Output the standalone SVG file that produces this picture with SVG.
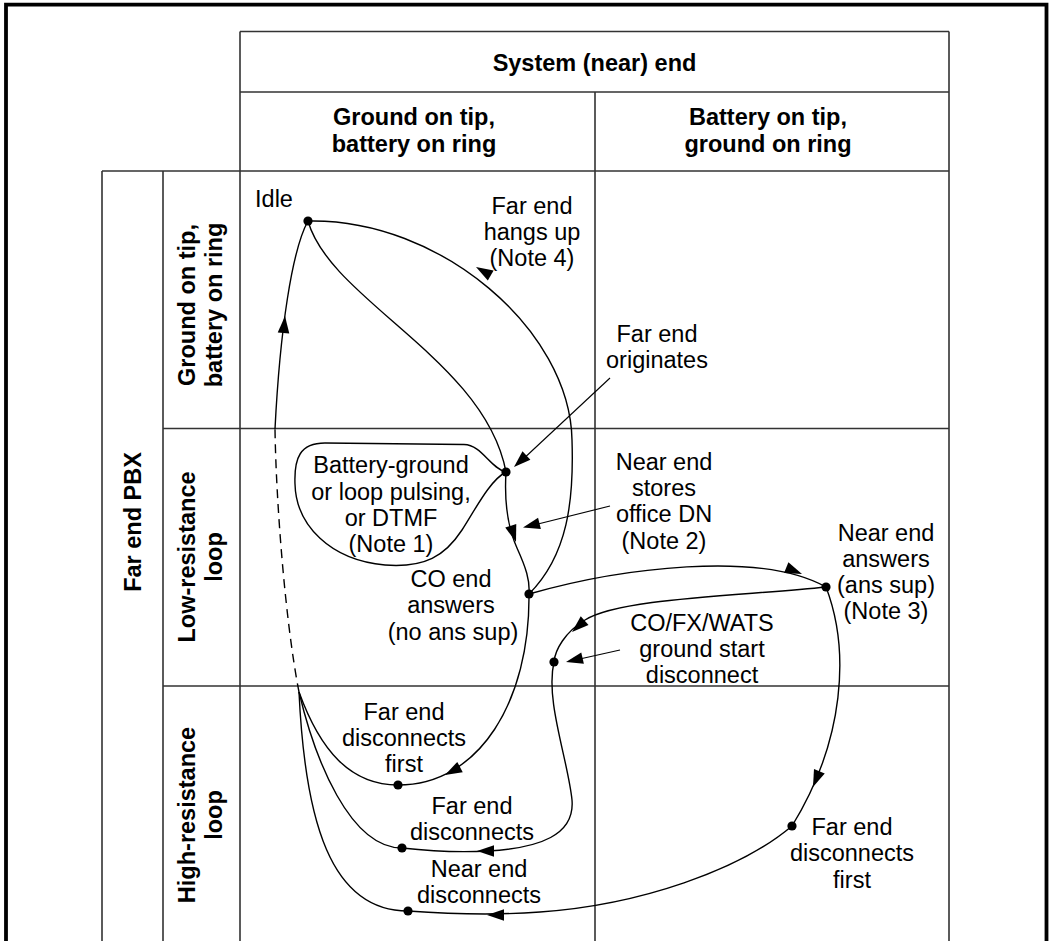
<svg xmlns="http://www.w3.org/2000/svg" xmlns:xlink="http://www.w3.org/1999/xlink" width="1051" height="941" viewBox="0 0 1051 941">
<style>
  .frame { fill: none; stroke: #000; stroke-width: 3.8; }
  .grid { fill: none; stroke: #333; stroke-width: 1.6; }
  .hdr { font-family: "Liberation Sans", Arial, sans-serif; font-size: 23.5px; font-weight: bold; fill: #000; text-anchor: middle; }
  .lbl { font-family: "Liberation Sans", Arial, sans-serif; font-size: 23.5px; fill: #000; text-anchor: middle; }
  .edge { fill: none; stroke: #000; stroke-width: 1.4; }
  .ptr { fill: none; stroke: #000; stroke-width: 1.1; }
  .dash { fill: none; stroke: #000; stroke-width: 1.4; stroke-dasharray: 9 6; }
  .dot { fill: #000; }
</style>
<defs>
  <path id="ah" d="M0,0 L-17,-5.8 L-17,5.8 Z" fill="#000"/>
</defs>
<rect width="1051" height="941" fill="#fff"/>
<path class="frame" d="M6,941 V4.7 H1046.5 V941"/>

<g id="table">
  <path class="grid" d="M240,31.5 H949 M240,92 H949 M102,171 H949 M163,428.5 H949 M163,686 H949"/>
  <path class="grid" d="M240,31.5 V941 M595,92 V941 M949,31.5 V941 M102,171 V941 M163,171 V941"/>
  <text class="hdr" x="594.5" y="71">System (near) end</text>
  <text class="hdr" x="414" y="125">Ground on tip,</text>
  <text class="hdr" x="414" y="152">battery on ring</text>
  <text class="hdr" x="768" y="125">Battery on tip,</text>
  <text class="hdr" x="768" y="152">ground on ring</text>
  <text class="hdr" transform="translate(141,522) rotate(-90)">Far end PBX</text>
  <text class="hdr" transform="translate(195,305) rotate(-90)">Ground on tip,</text>
  <text class="hdr" transform="translate(222,305) rotate(-90)">battery on ring</text>
  <text class="hdr" transform="translate(195,557) rotate(-90)">Low-resistance</text>
  <text class="hdr" transform="translate(222,557) rotate(-90)">loop</text>
  <text class="hdr" transform="translate(195,815) rotate(-90)">High-resistance</text>
  <text class="hdr" transform="translate(222,815) rotate(-90)">loop</text>
</g>

<g id="connectors">
  <path class="dash" d="M299,692 C 285,620 276,500 275,429"/>
  <path class="edge" d="M275,429 C 280,330 292,250 308,221"/>
  <path class="edge" d="M529,594 C 568,555 574,500 572,440 C 570,330 440,218 308,221"/>
  <path class="edge" d="M308,221 C 330,300 485,360 506,472"/>
  <path class="edge" d="M506,472 C 490,468 482,445 464,444.5 L 325,443 C 300,443 294,458 295,484 C 296,525 330,560 385,565 C 425,568 445,556 462,530 C 475,510 490,480 506,472"/>
  <path class="edge" d="M506,472 C 504,505 508,528 517,548 C 526,568 530,580 529,594"/>
  <path class="edge" d="M529,594 C 530,700 480,785 398,785"/>
  <path class="edge" d="M529,594 C 620,568 760,550 826,587"/>
  <path class="edge" d="M826,587 C 740,596 620,598 585,620 C 565,632 555,650 554,662"/>
  <path class="edge" d="M554,662 C 545,700 568,760 572,800 C 575,835 540,848 488,851 C 450,853 420,850 402,848"/>
  <path class="edge" d="M826,587 C 850,650 845,740 792,826"/>
  <path class="edge" d="M792,826 C 740,870 640,905 540,912 C 500,915 450,914 408,911"/>
  <path class="edge" d="M299,692 C 320,750 350,785 398,785"/>
  <path class="edge" d="M299,692 C 315,760 350,848 402,848"/>
  <path class="edge" d="M299,692 C 305,820 330,911 408,911"/>
  <path class="ptr" d="M610,378 L 520,462"/>
  <path class="ptr" d="M610,506 L 530,526"/>
  <path class="ptr" d="M620,650 L 573,660.5"/>
  <use xlink:href="#ah" transform="translate(285,316) rotate(-85)"/>
  <use xlink:href="#ah" transform="translate(476,267) rotate(210)"/>
  <use xlink:href="#ah" transform="translate(514,467) rotate(137)"/>
  <use xlink:href="#ah" transform="translate(516,542) rotate(72)"/>
  <use xlink:href="#ah" transform="translate(523,527.5) rotate(166)"/>
  <use xlink:href="#ah" transform="translate(802,574) rotate(22)"/>
  <use xlink:href="#ah" transform="translate(572,632) rotate(138)"/>
  <use xlink:href="#ah" transform="translate(566,662) rotate(167)"/>
  <use xlink:href="#ah" transform="translate(445,775) rotate(152)"/>
  <use xlink:href="#ah" transform="translate(477,851) rotate(180)"/>
  <use xlink:href="#ah" transform="translate(813,787) rotate(112)"/>
  <use xlink:href="#ah" transform="translate(487,915) rotate(180)"/>
  <text class="lbl" x="532" y="214">Far end</text>
  <text class="lbl" x="532" y="240">hangs up</text>
  <text class="lbl" x="532" y="266">(Note 4)</text>
  <text class="lbl" x="657" y="341.5">Far end</text>
  <text class="lbl" x="657" y="367.5">originates</text>
  <text class="lbl" x="391" y="473">Battery-ground</text>
  <text class="lbl" x="391" y="499.5">or loop pulsing,</text>
  <text class="lbl" x="391" y="526">or DTMF</text>
  <text class="lbl" x="391" y="552">(Note 1)</text>
  <text class="lbl" x="664" y="469.5">Near end</text>
  <text class="lbl" x="664" y="496">stores</text>
  <text class="lbl" x="664" y="522">office DN</text>
  <text class="lbl" x="664" y="548.5">(Note 2)</text>
  <text class="lbl" x="702" y="631">CO/FX/WATS</text>
  <text class="lbl" x="702" y="657">ground start</text>
  <text class="lbl" x="702" y="683">disconnect</text>
</g>

<g id="node-idle">
  <circle class="dot" cx="308" cy="221" r="4.6"/>
  <text class="lbl" x="274" y="207">Idle</text>
</g>
<g id="node-dialing">
  <circle class="dot" cx="506" cy="472" r="4.6"/>
</g>
<g id="node-co-answers">
  <circle class="dot" cx="529" cy="594" r="4.6"/>
  <text class="lbl" x="451" y="587">CO end</text>
  <text class="lbl" x="451" y="613">answers</text>
  <text class="lbl" x="453" y="640">(no ans sup)</text>
</g>
<g id="node-near-answers">
  <circle class="dot" cx="826" cy="587" r="4.6"/>
  <text class="lbl" x="886" y="540.5">Near end</text>
  <text class="lbl" x="886" y="566.5">answers</text>
  <text class="lbl" x="886" y="593">(ans sup)</text>
  <text class="lbl" x="886" y="619">(Note 3)</text>
</g>
<g id="node-ground-start">
  <circle class="dot" cx="554" cy="662" r="4.6"/>
</g>
<g id="node-far-disc-first-left">
  <circle class="dot" cx="398" cy="785" r="4.6"/>
  <text class="lbl" x="404" y="720">Far end</text>
  <text class="lbl" x="404" y="745.5">disconnects</text>
  <text class="lbl" x="404" y="771.5">first</text>
</g>
<g id="node-far-disc">
  <circle class="dot" cx="402" cy="848" r="4.6"/>
  <text class="lbl" x="472" y="814">Far end</text>
  <text class="lbl" x="472" y="840">disconnects</text>
</g>
<g id="node-near-disc">
  <circle class="dot" cx="408" cy="911" r="4.6"/>
  <text class="lbl" x="479" y="877">Near end</text>
  <text class="lbl" x="479" y="903">disconnects</text>
</g>
<g id="node-far-disc-first-right">
  <circle class="dot" cx="792" cy="826" r="4.6"/>
  <text class="lbl" x="852" y="835">Far end</text>
  <text class="lbl" x="852" y="861">disconnects</text>
  <text class="lbl" x="852" y="887.5">first</text>
</g>
</svg>
